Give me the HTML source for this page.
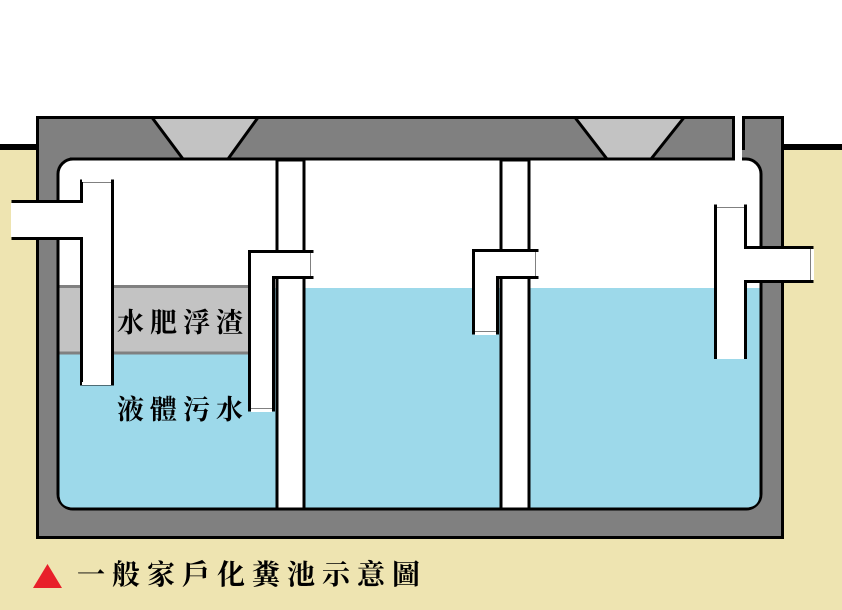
<!DOCTYPE html>
<html><head><meta charset="utf-8"><style>
html,body{margin:0;padding:0;background:#fff;width:842px;height:610px;overflow:hidden}
text{font-family:"Liberation Serif","Noto Serif CJK SC",serif;font-weight:bold;fill:#000}
</style></head><body>
<svg width="842" height="610" viewBox="0 0 842 610" xmlns="http://www.w3.org/2000/svg">
<rect x="0" y="0" width="842" height="610" fill="#fff"/>
<!-- ground -->
<rect x="0" y="148" width="842" height="462" fill="#eee4b1"/>
<rect x="0" y="144" width="40" height="6" fill="#000"/>
<rect x="780" y="144" width="62" height="6" fill="#000"/>
<!-- tank outer -->
<rect x="37.5" y="117.5" width="745" height="420" fill="#808080" stroke="#000" stroke-width="3"/>
<!-- inner cavity -->
<rect x="58" y="159" width="703" height="350" rx="15" fill="#fff" stroke="#000" stroke-width="3"/>
<!-- slit -->
<rect x="735" y="116" width="7" height="48" fill="#fff"/>
<line x1="733.5" y1="117" x2="733.5" y2="159" stroke="#000" stroke-width="3"/>
<line x1="743.5" y1="117" x2="743.5" y2="150" stroke="#000" stroke-width="3"/>
<!-- water -->
<path d="M250,288 H759.5 V494 Q759.5,507.5 746,507.5 H73 Q59.5,507.5 59.5,494 V354 H250 Z" fill="#9dd9ea"/>
<!-- scum -->
<rect x="59.5" y="286" width="190" height="68" fill="#c3c3c3"/>
<line x1="59.5" y1="286.5" x2="250" y2="286.5" stroke="#808080" stroke-width="3"/>
<line x1="59.5" y1="353" x2="250" y2="353" stroke="#808080" stroke-width="3"/>
<!-- funnels -->
<path d="M152,117.5 L183,159 H228 L258,117.5 Z" fill="#c3c3c3" stroke="#000" stroke-width="3"/>
<path d="M575,117.5 L607,159 H651 L684,117.5 Z" fill="#c3c3c3" stroke="#000" stroke-width="3"/>
<line x1="150" y1="117.5" x2="260" y2="117.5" stroke="#000" stroke-width="3"/>
<line x1="573" y1="117.5" x2="686" y2="117.5" stroke="#000" stroke-width="3"/>
<line x1="70" y1="159" x2="735" y2="159" stroke="#000" stroke-width="3"/>
<g fill="#fff" stroke="#000" stroke-width="3">
<path d="M13,201.5 H81.5 V181 H112.5 V384 H81.5 V238.5 H13 Z"/>
<rect x="277" y="160" width="27" height="349"/>
<path d="M249.5,410 V251.5 H312 V277.5 H273.5 V410 Z"/>
<rect x="501" y="160" width="28" height="349"/>
<path d="M473.5,333 V250.5 H537 V277.5 H497.5 V333 Z"/>
<path d="M715.5,357.5 V206 H745.5 V247.5 H812 V281.5 H745.5 V357.5 Z"/>
</g>
<rect x="11" y="203" width="4" height="34" fill="#fff"/>
<rect x="82" y="179" width="29" height="3" fill="#fff"/>
<rect x="82" y="382" width="29" height="3" fill="#fff"/>
<rect x="311" y="253" width="3" height="23" fill="#fff"/>
<rect x="251" y="409" width="21" height="3" fill="#fff"/>
<rect x="536" y="252" width="3" height="24" fill="#fff"/>
<rect x="475" y="332" width="21" height="3" fill="#fff"/>
<rect x="717" y="204" width="27" height="3" fill="#fff"/>
<rect x="717" y="356" width="27" height="3" fill="#fff"/>
<rect x="811" y="249" width="3" height="31" fill="#fff"/>
<!-- labels -->
<text x="117" y="332" font-size="27" letter-spacing="6">水肥浮渣</text>
<text x="117" y="419" font-size="27" letter-spacing="6">液體污水</text>
<!-- caption -->
<path d="M33,588 L47.5,564 L62,588 Z" fill="#e8202a"/>
<text x="77" y="584" font-size="28" letter-spacing="7">一般家戶化糞池示意圖</text>
</svg>
</body></html>
